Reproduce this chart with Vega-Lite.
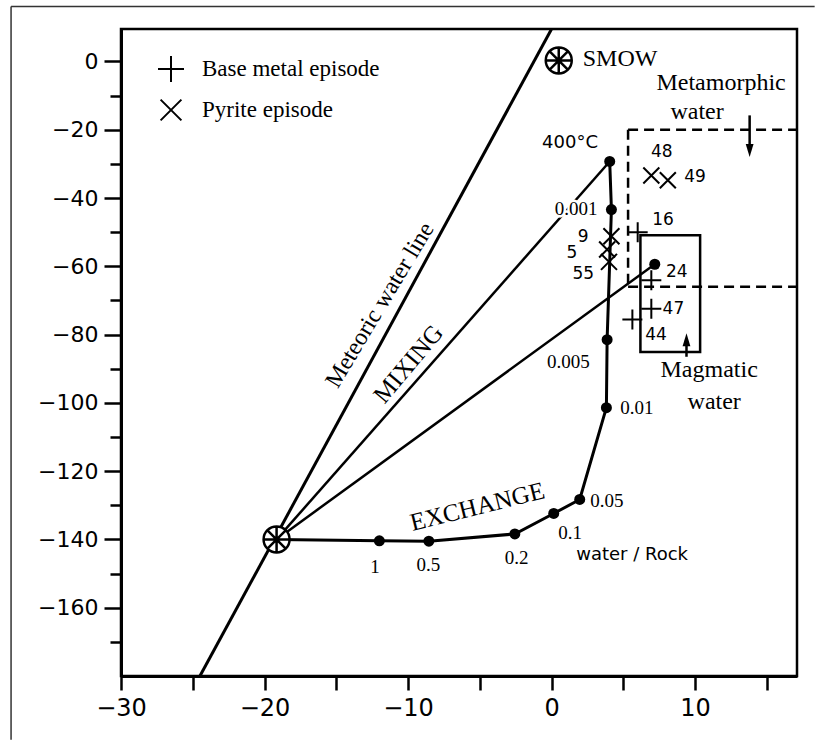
{
  "$schema": "https://vega.github.io/schema/vega-lite/v6.json",
  "width": 676,
  "height": 647,
  "autosize": {"type": "none"},
  "padding": {"left": 121, "top": 29, "right": 18, "bottom": 64},
  "background": "white",
  "config": {
    "view": {"stroke": "black", "strokeWidth": 2.5},
    "axis": {"grid": false, "domainColor": "black", "tickColor": "black", "labelColor": "black", "domainWidth": 3, "tickWidth": 2.5, "labelFont": "DejaVu Sans", "labelFlush": false, "labelOverlap": false, "title": null}
  },
  "encoding": {
    "x": {"field": "x", "type": "quantitative", "title": null,
      "scale": {"domain": [-30, 17.1], "nice": false, "zero": false},
      "axis": {"values": [-30, -25, -20, -15, -10, -5, 0, 5, 10, 15], "labelExpr": "datum.value % 10 === 0 ? datum.label : ''", "tickSize": 14, "labelPadding": 6, "labelFontSize": 24}},
    "y": {"field": "y", "type": "quantitative", "title": null,
      "scale": {"domain": [-180, 9.5], "nice": false, "zero": false},
      "axis": {"values": [-170, -160, -150, -140, -130, -120, -110, -100, -90, -80, -70, -60, -50, -40, -30, -20, -10, 0], "labelExpr": "datum.value % 20 === 0 ? datum.label : ''", "tickSize": {"condition": {"test": "datum.value % 20 === 0", "value": 17}, "value": 11}, "labelPadding": 6, "labelFontSize": 22}}
  },
  "layer": [
    {
      "data": {"values": [{"x": -37.66, "y": 16.1, "x2": -37.66, "y2": -198.7}, {"x": -37.66, "y": 16.1, "x2": 18.33, "y2": 16.1}]},
      "mark": {"type": "rule", "color": "#333333", "strokeWidth": 1.5},
      "encoding": {"x2": {"field": "x2"}, "y2": {"field": "y2"}}
    },
    {
      "data": {"values": [{"x": -24.5, "y": -180}, {"x": 0, "y": 9.5}]},
      "mark": {"type": "line", "color": "black", "strokeWidth": 3}
    },
    {
      "data": {"values": [{"x": -19.16, "y": -140, "x2": 4.05, "y2": -29.3}, {"x": -19.16, "y": -140, "x2": 7.19, "y2": -59.4}]},
      "mark": {"type": "rule", "color": "black", "strokeWidth": 2.5},
      "encoding": {"x2": {"field": "x2"}, "y2": {"field": "y2"}}
    },
    {
      "data": {"values": [
        {"i": 0, "x": -19.16, "y": -140.0},
        {"i": 1, "x": -12.0, "y": -140.4},
        {"i": 2, "x": -8.55, "y": -140.5},
        {"i": 3, "x": -2.56, "y": -138.4},
        {"i": 4, "x": 0.15, "y": -132.4},
        {"i": 5, "x": 1.96, "y": -128.3},
        {"i": 6, "x": 3.82, "y": -101.4},
        {"i": 7, "x": 3.87, "y": -81.5},
        {"i": 8, "x": 4.17, "y": -43.4},
        {"i": 9, "x": 4.05, "y": -29.3}
      ]},
      "mark": {"type": "line", "color": "black", "strokeWidth": 3},
      "encoding": {"order": {"field": "i", "type": "quantitative"}}
    },
    {
      "data": {"values": [
        {"x": -12.0, "y": -140.4},
        {"x": -8.55, "y": -140.5},
        {"x": -2.56, "y": -138.4},
        {"x": 0.15, "y": -132.4},
        {"x": 1.96, "y": -128.3},
        {"x": 3.82, "y": -101.4},
        {"x": 3.87, "y": -81.5},
        {"x": 4.17, "y": -43.4},
        {"x": 4.05, "y": -29.3},
        {"x": 7.19, "y": -59.4}
      ]},
      "mark": {"type": "circle", "color": "black", "size": 121, "opacity": 1}
    },
    {
      "data": {"values": [{"x": 5.33, "y": -20, "x2": 17.1, "y2": -20}, {"x": 5.33, "y": -20, "x2": 5.33, "y2": -66}, {"x": 5.33, "y": -66, "x2": 17.1, "y2": -66}]},
      "mark": {"type": "rule", "color": "black", "strokeWidth": 2.5, "strokeDash": [10, 6]},
      "encoding": {"x2": {"field": "x2"}, "y2": {"field": "y2"}}
    },
    {
      "data": {"values": [{"x": 6.19, "y": -50.9, "x2": 10.35, "y2": -85.1}]},
      "mark": {"type": "rect", "fill": "transparent", "stroke": "black", "strokeWidth": 2.5},
      "encoding": {"x2": {"field": "x2"}, "y2": {"field": "y2"}}
    },
    {
      "data": {"values": [{"x": 13.8, "y": -15.8, "x2": 13.8, "y2": -25}, {"x": 9.4, "y": -86.5, "x2": 9.4, "y2": -82}]},
      "mark": {"type": "rule", "color": "black", "strokeWidth": 2.5},
      "encoding": {"x2": {"field": "x2"}, "y2": {"field": "y2"}}
    },
    {
      "data": {"values": [{"x": 13.8, "y": -26.1}]},
      "mark": {"type": "point", "shape": "M-0.6,-1L0.6,-1L0,1Z", "size": 169, "filled": true, "color": "black", "opacity": 1}
    },
    {
      "data": {"values": [{"x": 9.4, "y": -81.5}]},
      "mark": {"type": "point", "shape": "M-0.6,1L0.6,1L0,-1Z", "size": 169, "filled": true, "color": "black", "opacity": 1}
    },
    {
      "data": {"values": [{"x": 0.5, "y": 0.3}, {"x": -19.16, "y": -140}]},
      "mark": {"type": "point", "shape": "M1,0A1,1,0,1,1,-1,0A1,1,0,1,1,1,0ZM-1,0L1,0M0,-1L0,1M-0.7,-0.7L0.7,0.7M-0.7,0.7L0.7,-0.7", "size": 676, "filled": true, "fill": "white", "stroke": "black", "strokeWidth": 2.5, "opacity": 1}
    },
    {
      "data": {"values": [
        {"x": 6.0, "y": -50.0, "episode": "Base metal episode"},
        {"x": 6.95, "y": -64.1, "episode": "Base metal episode"},
        {"x": 6.95, "y": -72.4, "episode": "Base metal episode"},
        {"x": 5.63, "y": -75.6, "episode": "Base metal episode"},
        {"x": 6.95, "y": -33.4, "episode": "Pyrite episode"},
        {"x": 8.1, "y": -34.8, "episode": "Pyrite episode"},
        {"x": 4.17, "y": -51.2, "episode": "Pyrite episode"},
        {"x": 3.87, "y": -55.1, "episode": "Pyrite episode"},
        {"x": 4.0, "y": -58.7, "episode": "Pyrite episode"}
      ]},
      "mark": {"type": "point", "filled": false, "color": "black", "strokeWidth": 2, "size": 400, "opacity": 1},
      "encoding": {
        "shape": {"field": "episode", "type": "nominal",
          "scale": {"domain": ["Base metal episode", "Pyrite episode"], "range": ["M-1,0L1,0M0,-1L0,1", "M-0.8,-0.8L0.8,0.8M-0.8,0.8L0.8,-0.8"]},
          "legend": {"orient": "none", "legendX": 36, "legendY": 26, "title": null, "labelFont": "Liberation Serif", "labelFontSize": 23, "labelColor": "black", "symbolSize": 676, "symbolStrokeWidth": 2, "symbolStrokeColor": "black", "symbolFillColor": "transparent", "labelOffset": 17, "rowPadding": 9, "padding": 0, "labelLimit": 0}}
      }
    },
    {
      "data": {"values": [
        {"x": 7.68, "y": -26.4, "t": "48"},
        {"x": 10.0, "y": -33.8, "t": "49"},
        {"x": 7.77, "y": -46.5, "t": "16"},
        {"x": 2.2, "y": -51.3, "t": "9"},
        {"x": 1.41, "y": -56.2, "t": "5"},
        {"x": 2.21, "y": -62.3, "t": "55"},
        {"x": 8.72, "y": -61.6, "t": "24"},
        {"x": 8.49, "y": -72.6, "t": "47"},
        {"x": 7.28, "y": -80.1, "t": "44"}
      ]},
      "mark": {"type": "text", "font": "DejaVu Sans", "fontSize": 17, "color": "black", "align": "center", "baseline": "middle"},
      "encoding": {"text": {"field": "t"}}
    },
    {
      "data": {"values": [
        {"x": 1.29, "y": -23.9, "t": "400°C"},
        {"x": 5.61, "y": -144.6, "t": "water / Rock"}
      ]},
      "mark": {"type": "text", "font": "DejaVu Sans", "fontSize": 18, "color": "black", "align": "center", "baseline": "middle"},
      "encoding": {"text": {"field": "t"}}
    },
    {
      "data": {"values": [{"x": 1.71, "y": -43.2, "t": "0.001"}]},
      "mark": {"type": "text", "font": "Liberation Serif", "fontSize": 19, "align": "center", "baseline": "middle", "fill": "white", "stroke": "white", "strokeWidth": 5},
      "encoding": {"text": {"field": "t"}}
    },
    {
      "data": {"values": [
        {"x": 1.71, "y": -43.2, "t": "0.001"},
        {"x": 1.17, "y": -88.0, "t": "0.005"},
        {"x": 5.94, "y": -101.5, "t": "0.01"},
        {"x": 3.85, "y": -128.7, "t": "0.05"},
        {"x": 1.29, "y": -138.0, "t": "0.1"},
        {"x": -2.43, "y": -145.3, "t": "0.2"},
        {"x": -8.59, "y": -147.5, "t": "0.5"},
        {"x": -12.3, "y": -148.0, "t": "1"}
      ]},
      "mark": {"type": "text", "font": "Liberation Serif", "fontSize": 19, "color": "black", "align": "center", "baseline": "middle"},
      "encoding": {"text": {"field": "t"}}
    },
    {
      "data": {"values": [
        {"x": 4.77, "y": 0.7, "t": "SMOW"},
        {"x": 11.81, "y": -6.3, "t": "Metamorphic"},
        {"x": 10.14, "y": -14.8, "t": "water"},
        {"x": 10.98, "y": -90.4, "t": "Magmatic"},
        {"x": 11.33, "y": -99.7, "t": "water"}
      ]},
      "mark": {"type": "text", "font": "Liberation Serif", "fontSize": 24, "color": "black", "align": "center", "baseline": "middle"},
      "encoding": {"text": {"field": "t"}}
    },
    {
      "data": {"values": [{"x": -11.95, "y": -71.4, "t": "Meteoric water line"}]},
      "mark": {"type": "text", "font": "Liberation Serif", "fontSize": 24, "color": "black", "align": "center", "baseline": "middle", "angle": 301},
      "encoding": {"text": {"field": "t"}}
    },
    {
      "data": {"values": [{"x": -9.98, "y": -88.6, "t": "MIXING"}]},
      "mark": {"type": "text", "font": "Liberation Serif", "fontSize": 25, "color": "black", "align": "center", "baseline": "middle", "angle": 310},
      "encoding": {"text": {"field": "t"}}
    },
    {
      "data": {"values": [{"x": -5.17, "y": -130.4, "t": "EXCHANGE"}]},
      "mark": {"type": "text", "font": "Liberation Serif", "fontSize": 25, "color": "black", "align": "center", "baseline": "middle", "angle": 346},
      "encoding": {"text": {"field": "t"}}
    }
  ]
}
